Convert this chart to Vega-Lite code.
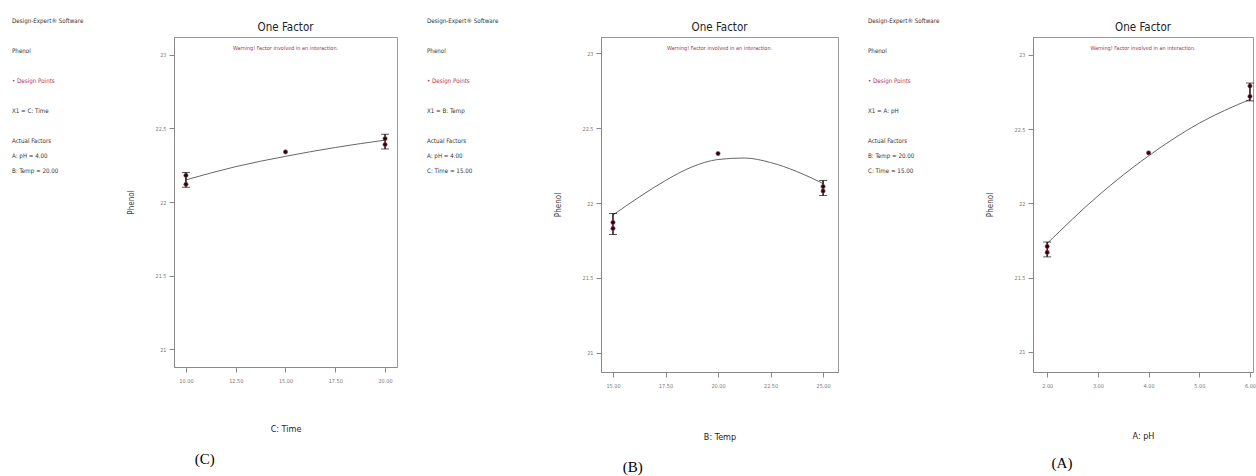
{
  "$schema": "https://vega.github.io/schema/vega-lite/v6.json",
  "padding": {"left": 12, "top": 17, "right": 0, "bottom": 0},
  "background": "white",
  "spacing": 29,
  "config": {
    "font": "Liberation Sans Narrow, DejaVu Sans Condensed, sans-serif",
    "view": {"stroke": "#999", "strokeWidth": 1},
    "axis": {
      "grid": false,
      "labelFont": "Liberation Sans Narrow, DejaVu Sans Condensed, sans-serif",
      "labelFontSize": 5.5,
      "labelColor": "#777",
      "tickColor": "#888",
      "domainColor": "#888",
      "tickSize": 5,
      "titleFont": "Liberation Sans Narrow, DejaVu Sans Condensed, sans-serif",
      "titleFontWeight": "normal",
      "titleColor": "#222"
    },
    "axisX": {"labelPadding": 6, "titleFontSize": 9, "titlePadding": 41},
    "axisY": {"labelPadding": 3, "titleFontSize": 8, "titlePadding": 19, "titleColor": "#444", "format": ".3~g"},
    "title": {
      "font": "Liberation Sans Narrow, DejaVu Sans Condensed, sans-serif",
      "fontSize": 11.5,
      "fontWeight": "normal",
      "color": "#222",
      "anchor": "middle",
      "frame": "group",
      "offset": -14,
      "subtitleFont": "Liberation Sans Narrow, DejaVu Sans Condensed, sans-serif",
      "subtitleFontSize": 5.5,
      "subtitleColor": "#a8344c",
      "subtitlePadding": 12
    }
  },
  "datasets": {
    "info": [
      {"panel": "C", "line": 1, "text": "Design-Expert® Software", "kind": "plain"},
      {"panel": "C", "line": 3, "text": "Phenol", "kind": "plain"},
      {"panel": "C", "line": 5, "text": "• Design Points", "kind": "legend"},
      {"panel": "C", "line": 7, "text": "X1 = C: Time", "kind": "plain"},
      {"panel": "C", "line": 9, "text": "Actual Factors", "kind": "plain"},
      {"panel": "C", "line": 10, "text": "A: pH = 4.00", "kind": "plain"},
      {"panel": "C", "line": 11, "text": "B: Temp = 20.00", "kind": "plain"},
      {"panel": "B", "line": 1, "text": "Design-Expert® Software", "kind": "plain"},
      {"panel": "B", "line": 3, "text": "Phenol", "kind": "plain"},
      {"panel": "B", "line": 5, "text": "• Design Points", "kind": "legend"},
      {"panel": "B", "line": 7, "text": "X1 = B: Temp", "kind": "plain"},
      {"panel": "B", "line": 9, "text": "Actual Factors", "kind": "plain"},
      {"panel": "B", "line": 10, "text": "A: pH = 4.00", "kind": "plain"},
      {"panel": "B", "line": 11, "text": "C: Time = 15.00", "kind": "plain"},
      {"panel": "A", "line": 1, "text": "Design-Expert® Software", "kind": "plain"},
      {"panel": "A", "line": 3, "text": "Phenol", "kind": "plain"},
      {"panel": "A", "line": 5, "text": "• Design Points", "kind": "legend"},
      {"panel": "A", "line": 7, "text": "X1 = A: pH", "kind": "plain"},
      {"panel": "A", "line": 9, "text": "Actual Factors", "kind": "plain"},
      {"panel": "A", "line": 10, "text": "B: Temp = 20.00", "kind": "plain"},
      {"panel": "A", "line": 11, "text": "C: Time = 15.00", "kind": "plain"}
    ],
    "fit": [
      {"panel": "C", "x": 10, "y": 22.15},
      {"panel": "C", "x": 12.5, "y": 22.24},
      {"panel": "C", "x": 15, "y": 22.31},
      {"panel": "C", "x": 17.5, "y": 22.37},
      {"panel": "C", "x": 20, "y": 22.42},
      {"panel": "B", "x": 15, "y": 21.92},
      {"panel": "B", "x": 16.25, "y": 22.04},
      {"panel": "B", "x": 17.5, "y": 22.15},
      {"panel": "B", "x": 18.75, "y": 22.24},
      {"panel": "B", "x": 20, "y": 22.29},
      {"panel": "B", "x": 21.25, "y": 22.3},
      {"panel": "B", "x": 22.5, "y": 22.27},
      {"panel": "B", "x": 23.75, "y": 22.21},
      {"panel": "B", "x": 25, "y": 22.13},
      {"panel": "A", "x": 2, "y": 21.73},
      {"panel": "A", "x": 3, "y": 22.05},
      {"panel": "A", "x": 4, "y": 22.32},
      {"panel": "A", "x": 5, "y": 22.54},
      {"panel": "A", "x": 6, "y": 22.7}
    ],
    "bars": [
      {"panel": "C", "x": 10, "lo": 22.1, "hi": 22.2},
      {"panel": "C", "x": 20, "lo": 22.36, "hi": 22.46},
      {"panel": "B", "x": 15, "lo": 21.79, "hi": 21.93},
      {"panel": "B", "x": 25, "lo": 22.05, "hi": 22.15},
      {"panel": "A", "x": 2, "lo": 21.64, "hi": 21.74},
      {"panel": "A", "x": 6, "lo": 22.69, "hi": 22.81}
    ],
    "pts": [
      {"panel": "C", "x": 10, "y": 22.18},
      {"panel": "C", "x": 10, "y": 22.12},
      {"panel": "C", "x": 15, "y": 22.34},
      {"panel": "C", "x": 20, "y": 22.43},
      {"panel": "C", "x": 20, "y": 22.39},
      {"panel": "B", "x": 15, "y": 21.87},
      {"panel": "B", "x": 15, "y": 21.83},
      {"panel": "B", "x": 20, "y": 22.33},
      {"panel": "B", "x": 25, "y": 22.11},
      {"panel": "B", "x": 25, "y": 22.08},
      {"panel": "A", "x": 2, "y": 21.71},
      {"panel": "A", "x": 2, "y": 21.67},
      {"panel": "A", "x": 4, "y": 22.34},
      {"panel": "A", "x": 6, "y": 22.79},
      {"panel": "A", "x": 6, "y": 22.72}
    ]
  },
  "hconcat": [
    {
      "title": {"text": "(C)", "orient": "bottom", "anchor": "middle", "frame": "bounds", "font": "Liberation Serif", "fontSize": 15, "color": "#000", "offset": 18},
      "spacing": 15,
      "hconcat": [
        {
          "width": 100, "height": 330,
          "view": {"stroke": null},
          "data": {"name": "info"},
          "transform": [{"filter": "datum.panel === 'C'"}],
          "mark": {"type": "text", "align": "left", "baseline": "middle", "fontSize": 6.2},
          "encoding": {
            "x": {"datum": 0, "type": "quantitative", "scale": {"domain": [0, 1]}, "axis": null},
            "y": {"field": "line", "type": "quantitative", "scale": {"domain": [2.067, 24.067], "reverse": true, "nice": false, "zero": false}, "axis": null},
            "text": {"field": "text"},
            "color": {"field": "kind", "type": "nominal", "scale": {"domain": ["plain", "legend"], "range": ["#333333", "#b8344e"]}, "legend": null}
          }
        },
        {
          "width": 223, "height": 330,
          "title": {"text": "One Factor", "subtitle": "Warning! Factor involved in an interaction."},
          "encoding": {
            "x": {"field": "x", "type": "quantitative", "scale": {"domain": [9.4, 20.6], "nice": false, "zero": false}, "axis": {"values": [10, 12.5, 15, 17.5, 20], "format": ".2f", "title": "C: Time"}}
          },
          "layer": [
            {
              "data": {"name": "fit"}, "transform": [{"filter": "datum.panel === 'C'"}],
              "mark": {"type": "line", "color": "#666", "strokeWidth": 1, "interpolate": "monotone"},
              "encoding": {"y": {"field": "y", "type": "quantitative", "scale": {"domain": [20.88, 23.12], "nice": false, "zero": false}, "axis": {"values": [21, 21.5, 22, 22.5, 23], "title": "Phenol"}}}
            },
            {
              "data": {"name": "bars"}, "transform": [{"filter": "datum.panel === 'C'"}],
              "mark": {"type": "rule", "color": "#111", "strokeWidth": 1.5},
              "encoding": {"y": {"field": "lo", "type": "quantitative", "scale": {"domain": [20.88, 23.12], "nice": false, "zero": false}, "axis": {"values": [21, 21.5, 22, 22.5, 23], "title": "Phenol"}}, "y2": {"field": "hi"}}
            },
            {
              "data": {"name": "bars"}, "transform": [{"filter": "datum.panel === 'C'"}],
              "mark": {"type": "tick", "orient": "horizontal", "size": 8, "thickness": 1, "color": "#111"},
              "encoding": {"y": {"field": "lo", "type": "quantitative", "scale": {"domain": [20.88, 23.12], "nice": false, "zero": false}, "axis": {"values": [21, 21.5, 22, 22.5, 23], "title": "Phenol"}}}
            },
            {
              "data": {"name": "bars"}, "transform": [{"filter": "datum.panel === 'C'"}],
              "mark": {"type": "tick", "orient": "horizontal", "size": 8, "thickness": 1, "color": "#111"},
              "encoding": {"y": {"field": "hi", "type": "quantitative", "scale": {"domain": [20.88, 23.12], "nice": false, "zero": false}, "axis": {"values": [21, 21.5, 22, 22.5, 23], "title": "Phenol"}}}
            },
            {
              "data": {"name": "pts"}, "transform": [{"filter": "datum.panel === 'C'"}],
              "mark": {"type": "circle", "size": 18, "color": "#151010", "opacity": 1, "stroke": "#b03048", "strokeWidth": 0.6},
              "encoding": {"y": {"field": "y", "type": "quantitative", "scale": {"domain": [20.88, 23.12], "nice": false, "zero": false}, "axis": {"values": [21, 21.5, 22, 22.5, 23], "title": "Phenol"}}}
            }
          ]
        }
      ]
    },
    {
      "title": {"text": "(B)", "orient": "bottom", "anchor": "middle", "frame": "bounds", "font": "Liberation Serif", "fontSize": 15, "color": "#000", "offset": 18},
      "spacing": 27,
      "hconcat": [
        {
          "width": 100, "height": 335,
          "view": {"stroke": null},
          "data": {"name": "info"},
          "transform": [{"filter": "datum.panel === 'B'"}],
          "mark": {"type": "text", "align": "left", "baseline": "middle", "fontSize": 6.2},
          "encoding": {
            "x": {"datum": 0, "type": "quantitative", "scale": {"domain": [0, 1]}, "axis": null},
            "y": {"field": "line", "type": "quantitative", "scale": {"domain": [2.067, 24.4], "reverse": true, "nice": false, "zero": false}, "axis": null},
            "text": {"field": "text"},
            "color": {"field": "kind", "type": "nominal", "scale": {"domain": ["plain", "legend"], "range": ["#333333", "#b8344e"]}, "legend": null}
          }
        },
        {
          "width": 237, "height": 335,
          "title": {"text": "One Factor", "subtitle": "Warning! Factor involved in an interaction."},
          "encoding": {
            "x": {"field": "x", "type": "quantitative", "scale": {"domain": [14.43, 25.71], "nice": false, "zero": false}, "axis": {"values": [15, 17.5, 20, 22.5, 25], "format": ".2f", "title": "B: Temp", "titlePadding": 44}}
          },
          "layer": [
            {
              "data": {"name": "fit"}, "transform": [{"filter": "datum.panel === 'B'"}],
              "mark": {"type": "line", "color": "#666", "strokeWidth": 1, "interpolate": "monotone"},
              "encoding": {"y": {"field": "y", "type": "quantitative", "scale": {"domain": [20.873, 23.107], "nice": false, "zero": false}, "axis": {"values": [21, 21.5, 22, 22.5, 23], "title": "Phenol"}}}
            },
            {
              "data": {"name": "bars"}, "transform": [{"filter": "datum.panel === 'B'"}],
              "mark": {"type": "rule", "color": "#111", "strokeWidth": 1.5},
              "encoding": {"y": {"field": "lo", "type": "quantitative", "scale": {"domain": [20.873, 23.107], "nice": false, "zero": false}, "axis": {"values": [21, 21.5, 22, 22.5, 23], "title": "Phenol"}}, "y2": {"field": "hi"}}
            },
            {
              "data": {"name": "bars"}, "transform": [{"filter": "datum.panel === 'B'"}],
              "mark": {"type": "tick", "orient": "horizontal", "size": 8, "thickness": 1, "color": "#111"},
              "encoding": {"y": {"field": "lo", "type": "quantitative", "scale": {"domain": [20.873, 23.107], "nice": false, "zero": false}, "axis": {"values": [21, 21.5, 22, 22.5, 23], "title": "Phenol"}}}
            },
            {
              "data": {"name": "bars"}, "transform": [{"filter": "datum.panel === 'B'"}],
              "mark": {"type": "tick", "orient": "horizontal", "size": 8, "thickness": 1, "color": "#111"},
              "encoding": {"y": {"field": "hi", "type": "quantitative", "scale": {"domain": [20.873, 23.107], "nice": false, "zero": false}, "axis": {"values": [21, 21.5, 22, 22.5, 23], "title": "Phenol"}}}
            },
            {
              "data": {"name": "pts"}, "transform": [{"filter": "datum.panel === 'B'"}],
              "mark": {"type": "circle", "size": 18, "color": "#151010", "opacity": 1, "stroke": "#b03048", "strokeWidth": 0.6},
              "encoding": {"y": {"field": "y", "type": "quantitative", "scale": {"domain": [20.873, 23.107], "nice": false, "zero": false}, "axis": {"values": [21, 21.5, 22, 22.5, 23], "title": "Phenol"}}}
            }
          ]
        }
      ]
    },
    {
      "title": {"text": "(A)", "orient": "bottom", "anchor": "middle", "frame": "bounds", "font": "Liberation Serif", "fontSize": 15, "color": "#000", "offset": 15},
      "spacing": 18,
      "hconcat": [
        {
          "width": 100, "height": 335,
          "view": {"stroke": null},
          "data": {"name": "info"},
          "transform": [{"filter": "datum.panel === 'A'"}],
          "mark": {"type": "text", "align": "left", "baseline": "middle", "fontSize": 6.2},
          "encoding": {
            "x": {"datum": 0, "type": "quantitative", "scale": {"domain": [0, 1]}, "axis": null},
            "y": {"field": "line", "type": "quantitative", "scale": {"domain": [2.067, 24.4], "reverse": true, "nice": false, "zero": false}, "axis": null},
            "text": {"field": "text"},
            "color": {"field": "kind", "type": "nominal", "scale": {"domain": ["plain", "legend"], "range": ["#333333", "#b8344e"]}, "legend": null}
          }
        },
        {
          "width": 220, "height": 335,
          "title": {"text": "One Factor", "subtitle": "Warning! Factor involved in an interaction."},
          "encoding": {
            "x": {"field": "x", "type": "quantitative", "scale": {"domain": [1.72, 6.06], "nice": false, "zero": false}, "axis": {"values": [2, 3, 4, 5, 6], "format": ".2f", "title": "A: pH", "titlePadding": 43}}
          },
          "layer": [
            {
              "data": {"name": "fit"}, "transform": [{"filter": "datum.panel === 'A'"}],
              "mark": {"type": "line", "color": "#666", "strokeWidth": 1, "interpolate": "monotone"},
              "encoding": {"y": {"field": "y", "type": "quantitative", "scale": {"domain": [20.865, 23.12], "nice": false, "zero": false}, "axis": {"values": [21, 21.5, 22, 22.5, 23], "title": "Phenol"}}}
            },
            {
              "data": {"name": "bars"}, "transform": [{"filter": "datum.panel === 'A'"}],
              "mark": {"type": "rule", "color": "#111", "strokeWidth": 1.5},
              "encoding": {"y": {"field": "lo", "type": "quantitative", "scale": {"domain": [20.865, 23.12], "nice": false, "zero": false}, "axis": {"values": [21, 21.5, 22, 22.5, 23], "title": "Phenol"}}, "y2": {"field": "hi"}}
            },
            {
              "data": {"name": "bars"}, "transform": [{"filter": "datum.panel === 'A'"}],
              "mark": {"type": "tick", "orient": "horizontal", "size": 8, "thickness": 1, "color": "#111"},
              "encoding": {"y": {"field": "lo", "type": "quantitative", "scale": {"domain": [20.865, 23.12], "nice": false, "zero": false}, "axis": {"values": [21, 21.5, 22, 22.5, 23], "title": "Phenol"}}}
            },
            {
              "data": {"name": "bars"}, "transform": [{"filter": "datum.panel === 'A'"}],
              "mark": {"type": "tick", "orient": "horizontal", "size": 8, "thickness": 1, "color": "#111"},
              "encoding": {"y": {"field": "hi", "type": "quantitative", "scale": {"domain": [20.865, 23.12], "nice": false, "zero": false}, "axis": {"values": [21, 21.5, 22, 22.5, 23], "title": "Phenol"}}}
            },
            {
              "data": {"name": "pts"}, "transform": [{"filter": "datum.panel === 'A'"}],
              "mark": {"type": "circle", "size": 18, "color": "#151010", "opacity": 1, "stroke": "#b03048", "strokeWidth": 0.6},
              "encoding": {"y": {"field": "y", "type": "quantitative", "scale": {"domain": [20.865, 23.12], "nice": false, "zero": false}, "axis": {"values": [21, 21.5, 22, 22.5, 23], "title": "Phenol"}}}
            }
          ]
        }
      ]
    }
  ]
}
